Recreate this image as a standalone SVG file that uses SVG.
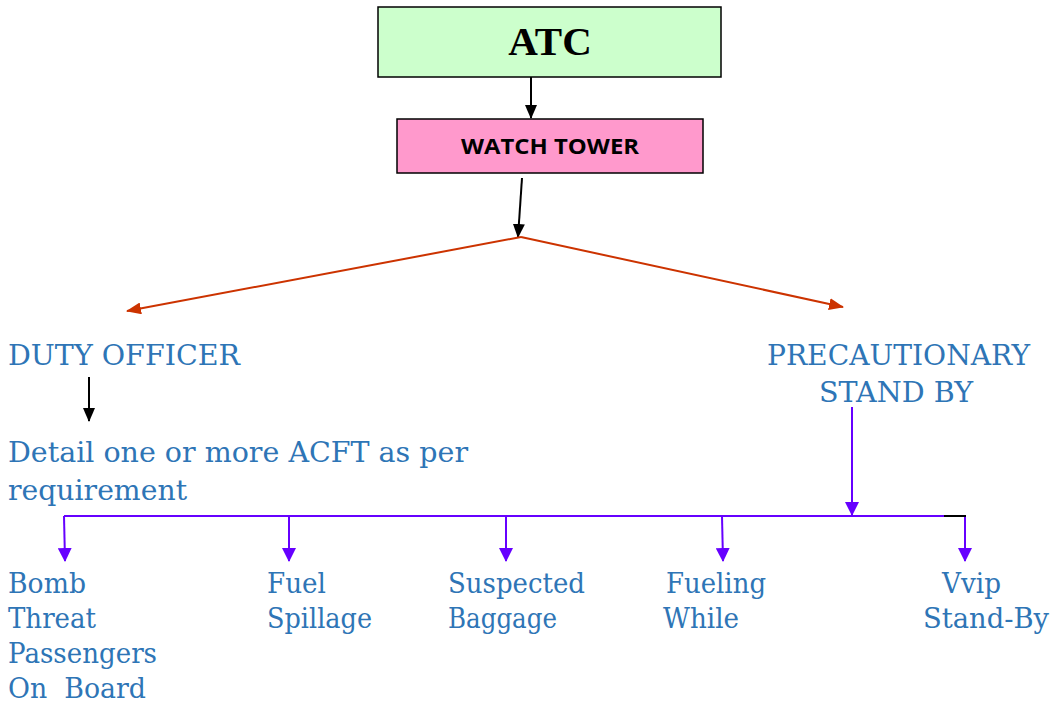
<svg xmlns="http://www.w3.org/2000/svg" width="1055" height="702" viewBox="0 0 1055 702">
<style>
.lbl{font-family:"DejaVu Serif","Liberation Serif",serif;font-size:27px;fill:#2e75b6;white-space:pre}
.blk{stroke:#000;stroke-width:2;fill:none}
.red{stroke:#cc3300;stroke-width:2;fill:none}
.pur{stroke:#6600ff;stroke-width:2;fill:none}
</style>
<defs>
<marker id="ab" markerWidth="14" markerHeight="12" refX="13" refY="6" orient="auto" markerUnits="userSpaceOnUse"><path d="M0,0 L14,6 L0,12 z" fill="#000"/></marker>
<marker id="ar" markerWidth="15" markerHeight="12" refX="14" refY="6" orient="auto" markerUnits="userSpaceOnUse"><path d="M0,0 L15,6 L0,12 z" fill="#cc3300"/></marker>
<marker id="ap" markerWidth="14" markerHeight="14" refX="13" refY="7" orient="auto" markerUnits="userSpaceOnUse"><path d="M0,0 L14,7 L0,14 z" fill="#6600ff"/></marker>
</defs>
<rect width="1055" height="702" fill="#fff"/>
<g id="atc">
<rect x="378" y="7" width="343" height="70" fill="#ccffcc" stroke="#000" stroke-width="1.5"/>
<text x="550" y="55" text-anchor="middle" font-family="Liberation Serif,serif" font-weight="bold" font-size="41">ATC</text>
</g>
<g id="watchtower">
<rect x="397" y="119" width="306" height="54" fill="#ff99cc" stroke="#000" stroke-width="1.5"/>
<text x="550" y="154" text-anchor="middle" font-family="Open Sans,Liberation Sans,sans-serif" font-weight="bold" font-size="22" textLength="178" lengthAdjust="spacingAndGlyphs">WATCH TOWER</text>
</g>
<g id="duty"><text class="lbl" x="8" y="365" textLength="232" lengthAdjust="spacingAndGlyphs">DUTY OFFICER</text></g>
<g id="detail"><text class="lbl" x="8" y="462" textLength="460" lengthAdjust="spacingAndGlyphs">Detail one or more ACFT as per</text><text class="lbl" x="8" y="500" textLength="179" lengthAdjust="spacingAndGlyphs">requirement</text></g>
<g id="precaution"><text class="lbl" x="767" y="365" textLength="263" lengthAdjust="spacingAndGlyphs">PRECAUTIONARY</text><text class="lbl" x="819" y="402" textLength="154" lengthAdjust="spacingAndGlyphs">STAND BY</text></g>
<g id="bomb"><text class="lbl" x="8" y="593" textLength="78" lengthAdjust="spacingAndGlyphs">Bomb</text><text class="lbl" x="8" y="628" textLength="88" lengthAdjust="spacingAndGlyphs">Threat</text><text class="lbl" x="8" y="663" textLength="149" lengthAdjust="spacingAndGlyphs">Passengers</text><text class="lbl" x="8" y="698" textLength="138" lengthAdjust="spacingAndGlyphs" xml:space="preserve">On  Board</text></g>
<g id="fuel"><text class="lbl" x="267" y="593" textLength="59" lengthAdjust="spacingAndGlyphs">Fuel</text><text class="lbl" x="267" y="628" textLength="105" lengthAdjust="spacingAndGlyphs">Spillage</text></g>
<g id="suspected"><text class="lbl" x="448" y="593" textLength="137" lengthAdjust="spacingAndGlyphs">Suspected</text><text class="lbl" x="448" y="628" textLength="109" lengthAdjust="spacingAndGlyphs">Baggage</text></g>
<g id="fueling"><text class="lbl" x="666" y="593" textLength="100" lengthAdjust="spacingAndGlyphs">Fueling</text><text class="lbl" x="663" y="628" textLength="76" lengthAdjust="spacingAndGlyphs">While</text></g>
<g id="vvip"><text class="lbl" x="942" y="593" textLength="59" lengthAdjust="spacingAndGlyphs">Vvip</text><text class="lbl" x="923" y="628" textLength="126" lengthAdjust="spacingAndGlyphs">Stand-By</text></g>
<g id="connectors">
<line class="blk" x1="531" y1="77" x2="531" y2="118" marker-end="url(#ab)"/>
<line class="blk" x1="522" y1="178" x2="518" y2="237" marker-end="url(#ab)"/>
<line class="red" x1="521" y1="237" x2="127" y2="311" marker-end="url(#ar)"/>
<line class="red" x1="521" y1="237" x2="843" y2="307" marker-end="url(#ar)"/>
<line class="blk" x1="89" y1="377" x2="89" y2="421" marker-end="url(#ab)"/>
<line class="pur" x1="852" y1="407" x2="852" y2="515" marker-end="url(#ap)"/>
<line class="pur" x1="64" y1="516" x2="944" y2="516"/>
<line x1="944" y1="516" x2="966" y2="516" stroke="#000" stroke-width="2"/>
<line class="pur" x1="64" y1="516" x2="65" y2="561" marker-end="url(#ap)"/>
<line class="pur" x1="289" y1="516" x2="289" y2="561" marker-end="url(#ap)"/>
<line class="pur" x1="506" y1="516" x2="506" y2="561" marker-end="url(#ap)"/>
<line class="pur" x1="722" y1="516" x2="723" y2="561" marker-end="url(#ap)"/>
<line class="pur" x1="965" y1="517" x2="965" y2="561" marker-end="url(#ap)"/>
</g>
</svg>
